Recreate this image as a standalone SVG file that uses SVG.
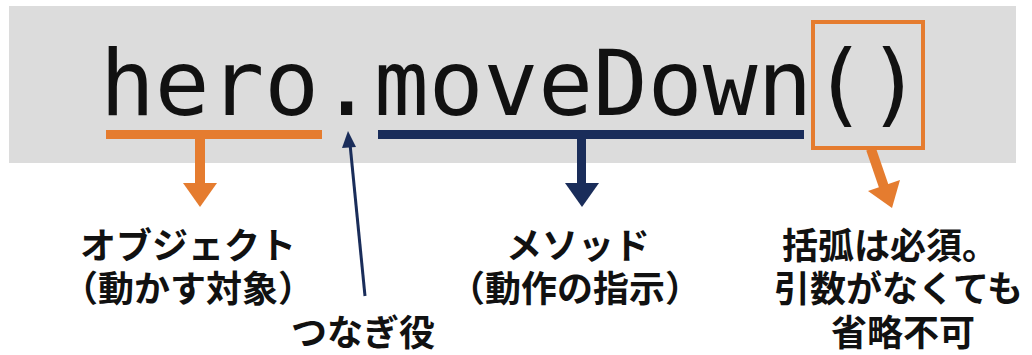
<svg xmlns="http://www.w3.org/2000/svg" width="1032" height="355" viewBox="0 0 1032 355">
  <style>
    .code { font-family: "DejaVu Sans Mono", "Liberation Mono", monospace; font-size: 91px; fill: #111111; }
    .lbl { font-family: "Noto Sans CJK JP", "Noto Sans", sans-serif; font-size: 36px; font-weight: bold; fill: #111111; }
    .orange { fill: #E57C2F; }
    .navy { fill: #1A2D5A; }
  </style>
  <rect width="1032" height="355" fill="#FFFFFF"/>
  <g id="code-band">
    <rect x="9" y="6" width="1007" height="157" fill="#DCDCDC"/>
    <text class="code" x="100" y="115">hero.moveDown()</text>
  </g>
  <g id="connectors">
    <!-- hero underline + arrow -->
    <rect class="orange" x="106" y="130" width="216" height="9"/>
    <rect class="orange" x="195" y="139" width="10" height="45"/>
    <polygon class="orange" points="183,183 217,183 200,207"/>
    <!-- moveDown underline + arrow -->
    <rect class="navy" x="378" y="130" width="426" height="9"/>
    <rect class="navy" x="577" y="139" width="9" height="45"/>
    <polygon class="navy" points="565,183 599,183 582,207"/>
    <!-- dot arrow -->
    <line x1="365" y1="296" x2="350" y2="144" stroke="#1A2D5A" stroke-width="3"/>
    <polygon class="navy" points="348,131 356,147 342,148"/>
    <!-- parens box + arrow -->
    <rect x="813" y="22" width="110" height="126" fill="none" stroke="#E57C2F" stroke-width="4"/>
    <line x1="871" y1="149" x2="884" y2="187" stroke="#E57C2F" stroke-width="10"/>
    <polygon class="orange" points="868,191 900,180 892,208"/>
  </g>
  <g id="object-label">
    <text class="lbl" x="188" y="259" text-anchor="middle">オブジェクト</text>
    <text class="lbl" x="188" y="302" text-anchor="middle">（動かす対象）</text>
  </g>
  <g id="dot-label">
    <text class="lbl" x="291" y="346">つなぎ役</text>
  </g>
  <g id="method-label">
    <text class="lbl" x="578" y="259" text-anchor="middle">メソッド</text>
    <text class="lbl" x="575" y="302" text-anchor="middle">（動作の指示）</text>
  </g>
  <g id="paren-label">
    <text class="lbl" x="782" y="259">括弧は必須。</text>
    <text class="lbl" x="774" y="302">引数がなくても</text>
    <text class="lbl" x="831" y="346">省略不可</text>
  </g>
</svg>
